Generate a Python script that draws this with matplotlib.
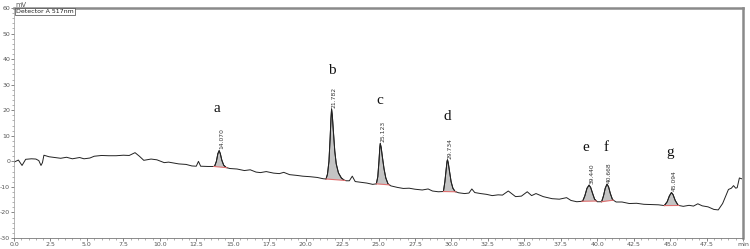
import numpy as np
import matplotlib
matplotlib.use("Agg")
import matplotlib.pyplot as plt
from matplotlib.ticker import MultipleLocator

plt.rcParams["axes.unicode_minus"] = False

time = [0.0, 0.3, 0.55, 0.8, 1.2, 1.5, 1.7, 1.85, 1.95, 2.05, 2.4, 2.8, 3.2, 3.6, 4.0, 4.5, 4.8,
        5.2, 5.5, 6.0, 6.5, 7.0, 7.5, 7.9, 8.3, 8.6, 8.9, 9.4, 9.8, 10.3, 10.6, 10.9, 11.3, 11.8,
        12.2, 12.5, 12.65, 12.8, 13.3, 13.75, 13.88, 13.98, 14.07, 14.15, 14.25, 14.38, 14.55,
        14.8, 15.3, 15.8, 16.2, 16.6, 16.9, 17.3, 17.8, 18.2, 18.5, 18.9, 19.4, 19.8, 20.3, 20.8,
        21.2, 21.4, 21.5, 21.6, 21.68, 21.74, 21.78, 21.83, 21.9, 22.0, 22.1, 22.25, 22.45, 22.65,
        22.8, 23.0, 23.2, 23.4, 23.8, 24.2, 24.6, 24.85, 24.95, 25.03, 25.09, 25.12, 25.18, 25.27,
        25.38, 25.5, 25.65, 25.85, 26.3, 26.7, 27.1, 27.5, 28.0, 28.4, 28.7, 29.1, 29.45, 29.55,
        29.64, 29.7, 29.73, 29.78, 29.87, 29.98, 30.1, 30.25, 30.5, 30.9, 31.2, 31.4, 31.6, 32.0,
        32.4, 32.8, 33.2, 33.5, 33.9, 34.4, 34.8, 35.2, 35.5, 35.8, 36.3, 36.9, 37.4, 37.9, 38.2,
        38.6, 39.0, 39.15, 39.3, 39.44, 39.55, 39.68, 39.82, 40.0, 40.3, 40.43, 40.55, 40.67,
        40.78, 40.9, 41.05, 41.3, 41.7, 42.2, 42.7, 43.2, 43.7, 44.2, 44.6, 44.8, 44.95, 45.09,
        45.2, 45.35, 45.55, 45.9, 46.3, 46.6, 46.9, 47.2, 47.6, 48.0, 48.3, 48.6, 49.0, 49.2,
        49.35, 49.5, 49.6, 49.75, 49.9]
signal = [-0.3, 0.5, -1.6, 0.8, 1.0, 0.9, 0.3, -1.6, -0.5, 2.4, 1.8, 1.5, 1.2, 1.6, 1.0, 1.5, 1.0,
          1.3, 2.0, 2.3, 2.2, 2.2, 2.4, 2.3, 3.4, 2.0, 0.4, 0.9, 0.6, -0.5, -0.3, -0.6, -1.0, -1.2,
          -1.8, -1.9, 0.0, -1.9, -2.0, -2.0, 0.0, 3.0, 4.2, 3.0, 0.5, -1.5, -2.4,
          -2.8, -3.0, -3.6, -3.3, -4.2, -4.4, -4.0, -4.6, -4.8, -4.3, -5.2, -5.5, -5.8, -6.0, -6.3,
          -6.8, -6.9, -5.0, 0.0, 9.0, 17.0, 20.5, 18.0, 12.0, 4.0, -1.0, -4.5, -6.5, -7.4,
          -7.6, -7.6, -5.8, -7.9, -8.2, -8.5, -9.0, -8.8, -6.0, 0.0, 5.5, 7.0, 5.5, 1.5,
          -3.0, -6.5, -8.8, -9.6, -10.2, -10.6, -10.5, -10.9, -11.2, -10.8, -11.6, -11.9, -11.8, -8.0,
          -3.0, 0.0, 0.6, -0.5, -4.0, -8.0, -10.5, -11.8, -12.3, -12.6, -12.4, -10.8, -12.2, -12.6,
          -12.9, -13.4, -13.1, -13.2, -11.6, -13.8, -13.6, -11.9, -13.4, -12.6, -13.8, -14.6, -14.8, -14.2, -15.3,
          -15.8, -15.6, -13.5, -10.5, -9.3, -10.2, -12.5, -14.8, -15.8, -15.8, -13.5, -10.5, -8.9,
          -10.0, -12.6, -15.0, -15.9, -15.9, -16.5, -16.4, -16.8, -16.9, -17.0, -17.3, -15.8, -13.5, -12.2,
          -13.0, -15.3, -17.2, -17.6, -17.2, -17.5, -16.6, -17.4, -17.8, -18.8, -19.0, -16.5, -11.0, -10.5,
          -9.5, -10.5, -10.3, -6.5, -6.8]

peak_letters = ["a", "b", "c", "d", "e", "f", "g"]
peak_rt = [14.070, 21.782, 25.123, 29.734, 39.440, 40.668, 45.094]
peak_rt_labels = ["14.070", "21.782", "25.123", "29.734", "39.440", "40.668", "45.094"]
peak_start = [13.7, 21.4, 24.85, 29.45, 38.95, 40.3, 44.6]
peak_end = [14.6, 22.7, 25.75, 30.3, 39.95, 41.1, 45.6]
letter_x = [13.9, 21.8, 25.1, 29.7, 39.2, 40.6, 45.0]
letter_y = [20.5, 35.6, 23.7, 17.4, 5.5, 5.5, 3.5]

t = np.array(time)
s = np.array(signal)

fig = plt.figure(figsize=(7.5, 2.49), dpi=100)
ax = fig.add_axes([0.0187, 0.044, 0.972, 0.924])
ax.set_xlim(0, 50)
ax.set_ylim(-30, 60)

ax.plot(t, s, color="#222222", lw=0.7)

for st, en, rt, lab in zip(peak_start, peak_end, peak_rt, peak_rt_labels):
    ys, ye = np.interp(st, t, s), np.interp(en, t, s)
    m = (t > st) & (t < en)
    px = np.concatenate([[st], t[m], [en]])
    py = np.concatenate([[ys], s[m], [ye]])
    ax.fill(np.concatenate([px, [en, st]]), np.concatenate([py, [ye, ys]]),
            color="#c4c4c4", lw=0)
    ax.plot(px, py, color="#222222", lw=0.7)
    ax.plot([st, en], [ys, ye], color="#e07070", lw=0.8)
    top = np.interp(rt, t, s)
    ax.text(rt + 0.18, top + 0.5, lab, rotation=90, fontsize=4.3, color="#333333",
            ha="center", va="bottom")

for L, x, y in zip(peak_letters, letter_x, letter_y):
    ax.text(x, y, L, fontsize=11, family="Liberation Serif", ha="center", va="center",
            color="#111111")

# axes styling
for side in ["top", "right"]:
    ax.spines[side].set_color("#8a8a8a")
    ax.spines[side].set_linewidth(1.8)
ax.spines["left"].set_color("#999999")
ax.spines["left"].set_linewidth(0.5)
ax.spines["bottom"].set_color("#777777")
ax.spines["bottom"].set_linewidth(0.6)

ax.xaxis.set_minor_locator(MultipleLocator(0.5))
ax.yaxis.set_major_locator(MultipleLocator(10))
ax.yaxis.set_minor_locator(MultipleLocator(2))
xt = np.arange(0, 50.01, 2.5)
ax.set_xticks(xt)
ax.set_xticklabels([f"{v:.1f}" for v in xt[:-1]] + ["min"])
ax.tick_params(axis="both", which="major", labelsize=4.5, colors="#555555", length=2.0,
               width=0.5, pad=0.8)
ax.tick_params(axis="both", which="minor", length=1.3, width=0.4, colors="#777777")

fig.text(0.02, 0.99, "mV", fontsize=4.8, color="#555555", ha="left", va="top")
ax.text(0.003, 0.995, "Detector A 517nm", transform=ax.transAxes, fontsize=4.5,
        color="#222222", ha="left", va="top",
        bbox=dict(boxstyle="square,pad=0.15", fc="white", ec="#444444", lw=0.5))

fig.savefig("out.png", dpi=100)
